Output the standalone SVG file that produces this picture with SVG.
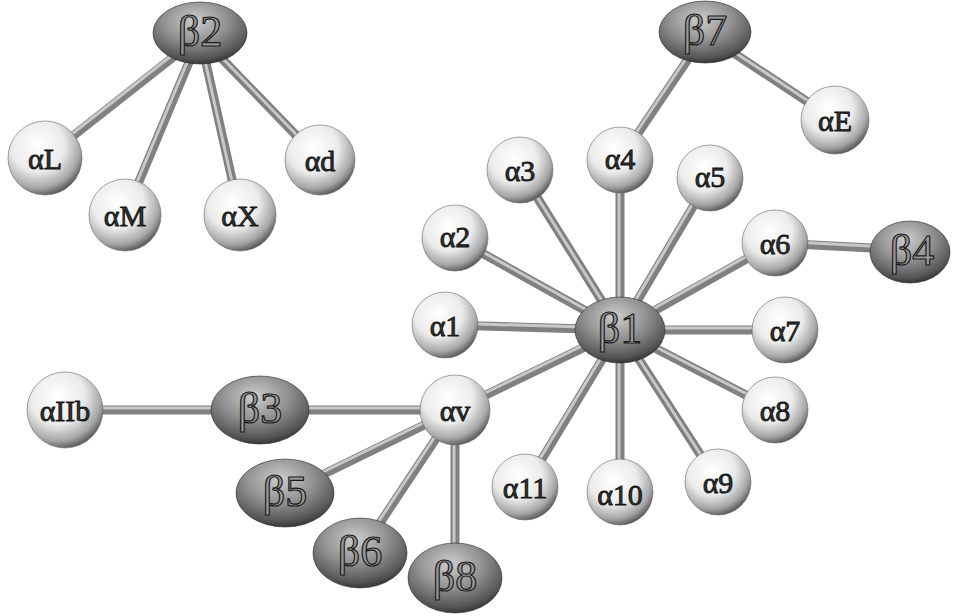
<svg xmlns="http://www.w3.org/2000/svg" width="954" height="616" viewBox="0 0 954 616">
  <style>
    .rod { stroke: #808080; stroke-width: 9; stroke-linecap: round; }
    .rodhl { stroke: #c8c8c8; stroke-width: 3; stroke-linecap: round; }
    .alpha { fill: url(#sphere); stroke: #666; stroke-width: 0.6; }
    .beta { fill: url(#dark); stroke: #2a2a2a; stroke-width: 0.6; }
    .al { font-family: "Liberation Serif", "DejaVu Serif", serif; font-size: 30px; fill: #2e2e2e; stroke: #111; stroke-width: 0.8; text-anchor: middle; dominant-baseline: central; }
    .bl { font-family: "Liberation Serif", "DejaVu Serif", serif; font-size: 44px; fill: #9a9a9a; stroke: #1a1a1a; stroke-width: 1.2; text-anchor: middle; dominant-baseline: central; }
  </style>
  <defs>
    <radialGradient id="sphere" cx="0.4" cy="0.33" r="0.72">
      <stop offset="0" stop-color="#ffffff"/>
      <stop offset="0.5" stop-color="#ebebeb"/>
      <stop offset="0.8" stop-color="#a6a6a6"/>
      <stop offset="1" stop-color="#444"/>
    </radialGradient>
    <radialGradient id="dark" cx="0.45" cy="0.3" r="0.75">
      <stop offset="0" stop-color="#cdcdcd"/>
      <stop offset="0.45" stop-color="#929292"/>
      <stop offset="0.82" stop-color="#555"/>
      <stop offset="1" stop-color="#262626"/>
    </radialGradient>
  </defs>
  <rect width="954" height="616" fill="#fff"/>

  <!-- rods between subunits: a grey body with a lighter sheen line on top -->
  <g id="connectors">
    <g class="rod">
      <line x1="200" y1="36" x2="45" y2="158"/>
      <line x1="200" y1="36" x2="125" y2="215"/>
      <line x1="200" y1="36" x2="240" y2="215"/>
      <line x1="200" y1="36" x2="320" y2="160"/>
      <line x1="705" y1="34" x2="620" y2="160"/>
      <line x1="705" y1="34" x2="835" y2="120"/>
      <line x1="620" y1="330" x2="445" y2="325"/>
      <line x1="620" y1="330" x2="455" y2="238"/>
      <line x1="620" y1="330" x2="520" y2="170"/>
      <line x1="620" y1="330" x2="620" y2="160"/>
      <line x1="620" y1="330" x2="710" y2="178"/>
      <line x1="620" y1="330" x2="775" y2="243"/>
      <line x1="620" y1="330" x2="785" y2="330"/>
      <line x1="620" y1="330" x2="775" y2="410"/>
      <line x1="620" y1="330" x2="718" y2="482"/>
      <line x1="620" y1="330" x2="620" y2="492"/>
      <line x1="620" y1="330" x2="525" y2="487"/>
      <line x1="620" y1="330" x2="455" y2="410"/>
      <line x1="775" y1="243" x2="910" y2="250"/>
      <line x1="455" y1="410" x2="260" y2="410"/>
      <line x1="260" y1="410" x2="65" y2="410"/>
      <line x1="455" y1="410" x2="285" y2="493"/>
      <line x1="455" y1="410" x2="360" y2="553"/>
      <line x1="455" y1="410" x2="455" y2="577"/>
    </g>
    <g class="rodhl" transform="translate(-1,-2)">
      <line x1="200" y1="36" x2="45" y2="158"/>
      <line x1="200" y1="36" x2="125" y2="215"/>
      <line x1="200" y1="36" x2="240" y2="215"/>
      <line x1="200" y1="36" x2="320" y2="160"/>
      <line x1="705" y1="34" x2="620" y2="160"/>
      <line x1="705" y1="34" x2="835" y2="120"/>
      <line x1="620" y1="330" x2="445" y2="325"/>
      <line x1="620" y1="330" x2="455" y2="238"/>
      <line x1="620" y1="330" x2="520" y2="170"/>
      <line x1="620" y1="330" x2="620" y2="160"/>
      <line x1="620" y1="330" x2="710" y2="178"/>
      <line x1="620" y1="330" x2="775" y2="243"/>
      <line x1="620" y1="330" x2="785" y2="330"/>
      <line x1="620" y1="330" x2="775" y2="410"/>
      <line x1="620" y1="330" x2="718" y2="482"/>
      <line x1="620" y1="330" x2="620" y2="492"/>
      <line x1="620" y1="330" x2="525" y2="487"/>
      <line x1="620" y1="330" x2="455" y2="410"/>
      <line x1="775" y1="243" x2="910" y2="250"/>
      <line x1="455" y1="410" x2="260" y2="410"/>
      <line x1="260" y1="410" x2="65" y2="410"/>
      <line x1="455" y1="410" x2="285" y2="493"/>
      <line x1="455" y1="410" x2="360" y2="553"/>
      <line x1="455" y1="410" x2="455" y2="577"/>
    </g>
  </g>

  <!-- beta subunits -->
  <g id="b2"><ellipse class="beta" cx="200" cy="33" rx="47" ry="31"/><text class="bl" x="200" y="31">β2</text></g>
  <g id="b7"><ellipse class="beta" cx="705" cy="32" rx="46" ry="31"/><text class="bl" x="705" y="30">β7</text></g>
  <g id="b4"><ellipse class="beta" cx="910" cy="252" rx="40" ry="31"/><text class="bl" x="912" y="250">β4</text></g>
  <g id="b1"><ellipse class="beta" cx="620" cy="330" rx="45" ry="33"/><text class="bl" x="620" y="328">β1</text></g>
  <g id="b3"><ellipse class="beta" cx="260" cy="410" rx="49" ry="34"/><text class="bl" x="260" y="408">β3</text></g>
  <g id="b5"><ellipse class="beta" cx="285" cy="493" rx="49" ry="34"/><text class="bl" x="285" y="491">β5</text></g>
  <g id="b6"><ellipse class="beta" cx="360" cy="553" rx="47" ry="35"/><text class="bl" x="360" y="551">β6</text></g>
  <g id="b8"><ellipse class="beta" cx="455" cy="578" rx="47" ry="35"/><text class="bl" x="455" y="576">β8</text></g>

  <!-- alpha subunits -->
  <g id="aL"><circle class="alpha" cx="45" cy="158" r="37"/><text class="al" x="45" y="158">αL</text></g>
  <g id="aM"><circle class="alpha" cx="125" cy="215" r="36"/><text class="al" x="125" y="215">αM</text></g>
  <g id="aX"><circle class="alpha" cx="240" cy="215" r="36"/><text class="al" x="240" y="215">αX</text></g>
  <g id="ad"><circle class="alpha" cx="320" cy="160" r="35"/><text class="al" x="320" y="160">αd</text></g>
  <g id="aE"><circle class="alpha" cx="835" cy="120" r="34"/><text class="al" x="835" y="120">αE</text></g>
  <g id="a1"><circle class="alpha" cx="445" cy="325" r="33"/><text class="al" x="445" y="325">α1</text></g>
  <g id="a2"><circle class="alpha" cx="455" cy="238" r="33"/><text class="al" x="455" y="236">α2</text></g>
  <g id="a3"><circle class="alpha" cx="520" cy="170" r="33"/><text class="al" x="520" y="170">α3</text></g>
  <g id="a4"><circle class="alpha" cx="620" cy="160" r="33"/><text class="al" x="620" y="158">α4</text></g>
  <g id="a5"><circle class="alpha" cx="710" cy="178" r="33"/><text class="al" x="710" y="176">α5</text></g>
  <g id="a6"><circle class="alpha" cx="775" cy="243" r="33"/><text class="al" x="775" y="243">α6</text></g>
  <g id="a7"><circle class="alpha" cx="785" cy="330" r="33"/><text class="al" x="785" y="330">α7</text></g>
  <g id="a8"><circle class="alpha" cx="775" cy="410" r="33"/><text class="al" x="775" y="410">α8</text></g>
  <g id="a9"><circle class="alpha" cx="718" cy="482" r="33"/><text class="al" x="718" y="482">α9</text></g>
  <g id="a10"><circle class="alpha" cx="620" cy="492" r="33"/><text class="al" x="620" y="494">α10</text></g>
  <g id="a11"><circle class="alpha" cx="525" cy="487" r="33"/><text class="al" x="525" y="487">α11</text></g>
  <g id="av"><circle class="alpha" cx="455" cy="410" r="35"/><text class="al" x="455" y="410">αv</text></g>
  <g id="aIIb"><circle class="alpha" cx="65" cy="410" r="38"/><text class="al" x="65" y="410">αIIb</text></g>
</svg>
